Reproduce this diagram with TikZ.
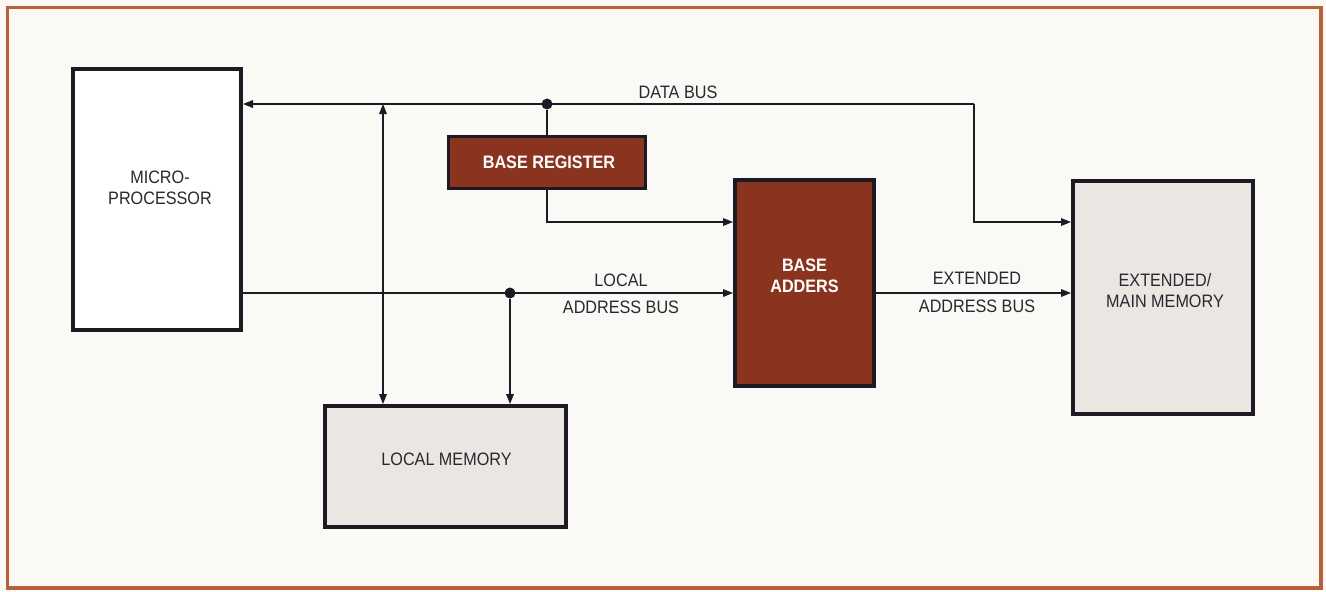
\documentclass[tikz,border=0pt]{standalone}
\usepackage{fontspec}
\setmainfont[FakeStretch=0.9]{Liberation Sans}
\usetikzlibrary{arrows.meta}
\definecolor{bg}{RGB}{250,249,245}
\definecolor{frame}{RGB}{184,96,58}
\definecolor{ink}{RGB}{28,26,34}
\definecolor{txtink}{RGB}{40,40,48}
\definecolor{brownfill}{RGB}{138,52,32}
\definecolor{memfill}{RGB}{236,230,227}
\begin{document}
\begin{tikzpicture}[x=0.5pt,y=-0.5pt,
  box/.style={draw=ink,line width=2pt,inner sep=0pt},
  whitebox/.style={box,fill=white},
  brownbox/.style={box,fill=brownfill},
  membox/.style={box,fill=memfill},
  txt/.style={text=txtink,font=\fontsize{9}{10.5}\selectfont,align=center,inner sep=0pt},
  wtxt/.style={text=white,font=\fontsize{9}{10.5}\selectfont\bfseries,align=center,inner sep=0pt},
  bus/.style={draw=ink,line width=0.7pt},
  tip/.tip={Triangle[length=5pt,width=3.8pt]},
  dot/.style={circle,fill=ink,inner sep=0pt,minimum size=5.5pt}]
\useasboundingbox (0,0) rectangle (1326,591);
\fill[bg] (0,0) rectangle (1326,591);
\draw[frame,line width=1.6pt] (7.5,7.5) rectangle (1321,588);

% blocks
\node[whitebox,minimum width=84pt,minimum height=130.5pt,
  label={[txt,xshift=1.5pt,yshift=6pt]center:MICRO-\\PROCESSOR}] (micro) at (157,199.5) {};
\node[brownbox,minimum width=98.5pt,minimum height=26pt,line width=1.8pt,
  label={[wtxt,xshift=1pt]center:BASE REGISTER}] (basereg) at (547,162.5) {};
\node[brownbox,minimum width=69.5pt,minimum height=103pt,
  label={[wtxt,yshift=3.75pt]center:BASE\\ADDERS}] (adders) at (804.5,283) {};
\node[membox,minimum width=90pt,minimum height=116.5pt,
  label={[txt,xshift=1pt,yshift=3.5pt]center:EXTENDED/\\MAIN MEMORY}] (extmem) at (1163,297.5) {};
\node[membox,minimum width=120.5pt,minimum height=60.5pt,
  label={[txt,xshift=0.5pt,yshift=3.75pt]center:LOCAL MEMORY}] (localmem) at (445.5,466.5) {};

% junctions
\coordinate (dbR) at (974,104);
\coordinate (vx) at (383,104);
\coordinate (j) at (547,222);
\node[dot] (dd) at (547,104) {};
\node[dot] (ld) at (510,293) {};

% data bus
\draw[bus,-tip] (dbR) -- (dbR -| micro.east);
\draw[bus,-tip] (dbR) |- (extmem.west |- j);
\draw[bus,tip-tip] (vx) -- (vx |- localmem.north);
\draw[bus] (dd) -- (basereg.north);
\draw[bus,-tip] (basereg.south) |- (adders.west |- j);

% local address bus
\draw[bus,-tip] (micro.east |- ld) -- (adders.west |- ld);
\draw[bus,-tip] (ld) -- (ld |- localmem.north);

% extended address bus
\draw[bus,-tip] (adders.east |- ld) -- (extmem.west |- ld);

% labels
\node[txt] (lbldata) at (678,92) {DATA BUS};
\node[txt] (lbllocal1) at (621,280) {LOCAL};
\node[txt] (lbllocal2) at (621,307) {ADDRESS BUS};
\node[txt] (lblext1) at (977,278) {EXTENDED};
\node[txt] (lblext2) at (977,306) {ADDRESS BUS};
\end{tikzpicture}
\end{document}
